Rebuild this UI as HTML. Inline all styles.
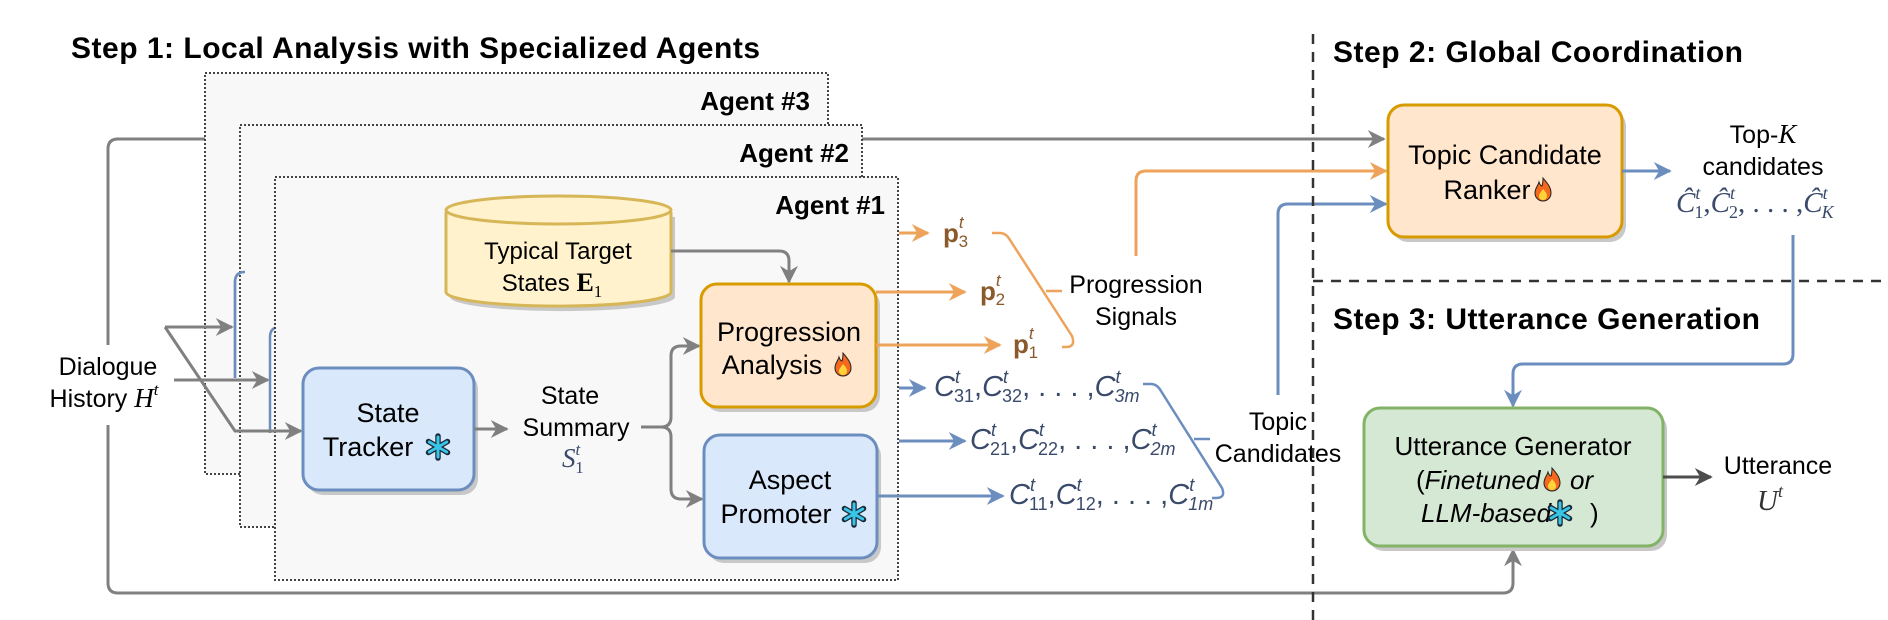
<!DOCTYPE html>
<html><head><meta charset="utf-8"><style>
html,body{margin:0;padding:0;background:#fff;}
svg{display:block;}
text{font-family:"Liberation Sans",sans-serif;}
.m{font-family:"Liberation Serif",serif;font-style:italic;}
</style></head><body>
<svg width="1888" height="620" viewBox="0 0 1888 620" xmlns="http://www.w3.org/2000/svg">
<defs>
<marker id="ag" viewBox="0 0 10 10" refX="9" refY="5" markerWidth="6" markerHeight="6" orient="auto" markerUnits="strokeWidth"><path d="M0,0 L10,5 L0,10 L3,5z" fill="#808080"/></marker>
<marker id="ao" viewBox="0 0 10 10" refX="9" refY="5" markerWidth="6" markerHeight="6" orient="auto" markerUnits="strokeWidth"><path d="M0,0 L10,5 L0,10 L3,5z" fill="#eea35a"/></marker>
<marker id="ab" viewBox="0 0 10 10" refX="9" refY="5" markerWidth="6" markerHeight="6" orient="auto" markerUnits="strokeWidth"><path d="M0,0 L10,5 L0,10 L3,5z" fill="#6c8ebf"/></marker>
<marker id="ad" viewBox="0 0 10 10" refX="9" refY="5" markerWidth="6" markerHeight="6" orient="auto" markerUnits="strokeWidth"><path d="M0,0 L10,5 L0,10 L3,5z" fill="#4d4d4d"/></marker>
<g id="fire"><path d="M8,0 C12,5 16,9 16,15 C16,20 12,23 8,23 C4,23 0,20 0,15 C0,10 3,8 4,4 C5,7 6,8 7,8 C8,5 8,3 8,0z" fill="#f4691d" stroke="#222" stroke-width="1"/><path d="M8,11 C11,14 12,16 12,18 C12,21 10,22 8,22 C6,22 4,21 4,18 C4,16 6,14 8,11z" fill="#ffd23a"/></g>
<g id="snow">
<g stroke="#1a2a3a" stroke-width="5.5" stroke-linecap="round"><line x1="0" y1="-11" x2="0" y2="11"/><line x1="-9.5" y1="-5.5" x2="9.5" y2="5.5"/><line x1="-9.5" y1="5.5" x2="9.5" y2="-5.5"/></g>
<g stroke="#39c6e6" stroke-width="3" stroke-linecap="round"><line x1="0" y1="-10" x2="0" y2="10"/><line x1="-8.7" y1="-5" x2="8.7" y2="5"/><line x1="-8.7" y1="5" x2="8.7" y2="-5"/></g>
</g>
</defs>

<path d="M108,345 V149 Q108,139 118,139 H1384" fill="none" stroke="#808080" stroke-width="3" marker-end="url(#ag)"/>
<path d="M108,425 V583 Q108,593 118,593 H1503 Q1513,593 1513,583 V550" fill="none" stroke="#808080" stroke-width="3" marker-end="url(#ag)"/>

<rect x="205" y="73" width="623" height="401" fill="#f8f8f8" stroke="#444" stroke-width="2" stroke-dasharray="2,2"/>
<text x="810" y="110" text-anchor="end" font-size="26" font-weight="bold">Agent #3</text>
<path d="M235,378 V282 Q235,272 245,272" fill="none" stroke="#6c8ebf" stroke-width="2.5"/>
<rect x="240" y="125" width="622" height="402" fill="#f8f8f8" stroke="#444" stroke-width="2" stroke-dasharray="2,2"/>
<text x="849" y="162" text-anchor="end" font-size="26" font-weight="bold">Agent #2</text>
<path d="M235,378 V282 Q235,272 245,272" fill="none" stroke="#6c8ebf" stroke-width="2.5"/>
<path d="M270,433 V337 Q270,327 280,327" fill="none" stroke="#6c8ebf" stroke-width="2.5"/>
<rect x="275" y="177" width="623" height="403" fill="#f8f8f8" stroke="#444" stroke-width="2" stroke-dasharray="2,2"/>
<text x="885" y="214" text-anchor="end" font-size="26" font-weight="bold">Agent #1</text>

<path d="M165,327 H232" fill="none" stroke="#808080" stroke-width="3" marker-end="url(#ag)"/>
<path d="M174,380 H268" fill="none" stroke="#808080" stroke-width="3" marker-end="url(#ag)"/>
<path d="M165,327 L235,431 H301" fill="none" stroke="#808080" stroke-width="3" marker-end="url(#ag)"/>

<text x="108" y="375" text-anchor="middle" font-size="25">Dialogue</text>
<text x="104" y="407" text-anchor="middle" font-size="25">History <tspan class="m" font-size="27">H</tspan><tspan class="m" font-size="17" dy="-12">t</tspan></text>

<path d="M446,212 V292 A112,14 0 0 0 671,292 V212" fill="#c8c8c8" transform="translate(4,5)"/>
<path d="M446,212 V292 A112,14 0 0 0 671,292 V212" fill="#fff2cc" stroke="#d6b656" stroke-width="3"/>
<ellipse cx="558.5" cy="210" rx="112.5" ry="14" fill="#fff2cc" stroke="#d6b656" stroke-width="3"/>
<text x="558" y="259" text-anchor="middle" font-size="24">Typical Target</text>
<text x="552" y="291" text-anchor="middle" font-size="24">States <tspan font-family="Liberation Serif" font-weight="bold" font-size="26">E</tspan><tspan font-family="Liberation Serif" font-size="17" dy="6">1</tspan></text>
<path d="M671,251 H779 Q789,251 789,261 V282" fill="none" stroke="#808080" stroke-width="3" marker-end="url(#ag)"/>

<rect x="307" y="373" width="171" height="122" rx="16" fill="#c8c8c8"/>
<rect x="303" y="368" width="171" height="122" rx="16" fill="#dae8fc" stroke="#6c8ebf" stroke-width="3"/>
<text x="388" y="422" text-anchor="middle" font-size="27">State</text>
<text x="368" y="456" text-anchor="middle" font-size="27">Tracker</text>
<use href="#snow" x="438" y="447"/>
<path d="M474,429 H507" fill="none" stroke="#808080" stroke-width="3" marker-end="url(#ag)"/>

<text x="570" y="404" text-anchor="middle" font-size="25">State</text>
<text x="576" y="436" text-anchor="middle" font-size="25">Summary</text>
<text x="562" y="467" class="m" font-size="27" fill="#3a4a6b">S<tspan font-size="17" dy="-12">t</tspan><tspan font-style="normal" font-size="17" dy="18" dx="-5">1</tspan></text>
<path d="M641,427 H661 Q671,427 671,417 V356 Q671,346 681,346 H699" fill="none" stroke="#808080" stroke-width="3" marker-end="url(#ag)"/>
<path d="M661,427 Q671,427 671,437 V489 Q671,499 681,499 H702" fill="none" stroke="#808080" stroke-width="3" marker-end="url(#ag)"/>

<rect x="705" y="289" width="175" height="123" rx="16" fill="#c8c8c8"/>
<rect x="701" y="284" width="175" height="123" rx="16" fill="#ffe6cc" stroke="#d79b00" stroke-width="3"/>
<text x="789" y="341" text-anchor="middle" font-size="27">Progression</text>
<text x="772" y="374" text-anchor="middle" font-size="27">Analysis</text>
<use href="#fire" x="835" y="353"/>

<rect x="708" y="440" width="173" height="123" rx="16" fill="#c8c8c8"/>
<rect x="704" y="435" width="173" height="123" rx="16" fill="#dae8fc" stroke="#6c8ebf" stroke-width="3"/>
<text x="790" y="489" text-anchor="middle" font-size="27">Aspect</text>
<text x="776" y="523" text-anchor="middle" font-size="27">Promoter</text>
<use href="#snow" x="854" y="514"/>

<path d="M899,233 H928" stroke="#eea35a" stroke-width="3" marker-end="url(#ao)"/>
<path d="M876,292 H965" stroke="#eea35a" stroke-width="3" marker-end="url(#ao)"/>
<path d="M876,345 H1000" stroke="#eea35a" stroke-width="3" marker-end="url(#ao)"/>
<g font-family="Liberation Serif" fill="#8b5a2b" font-size="26" font-weight="bold">
<text x="943" y="242">p<tspan font-size="17" font-weight="normal" font-style="italic" dy="-14">t</tspan><tspan font-size="17" font-weight="normal" dy="19" dx="-5">3</tspan></text>
<text x="980" y="300">p<tspan font-size="17" font-weight="normal" font-style="italic" dy="-14">t</tspan><tspan font-size="17" font-weight="normal" dy="19" dx="-5">2</tspan></text>
<text x="1013" y="353">p<tspan font-size="17" font-weight="normal" font-style="italic" dy="-14">t</tspan><tspan font-size="17" font-weight="normal" dy="19" dx="-5">1</tspan></text>
</g>
<path d="M992,233 H1000 Q1006,233 1010,240 L1072,336 Q1076,347 1066,347 H1062" fill="none" stroke="#eea35a" stroke-width="2.5"/>
<path d="M1046,291 H1062" stroke="#eea35a" stroke-width="2.5"/>
<text x="1136" y="293" text-anchor="middle" font-size="25">Progression</text>
<text x="1136" y="325" text-anchor="middle" font-size="25">Signals</text>
<path d="M1136,256 V181 Q1136,171 1146,171 H1386" fill="none" stroke="#eea35a" stroke-width="3" marker-end="url(#ao)"/>

<path d="M899,388 H925" stroke="#6c8ebf" stroke-width="3" marker-end="url(#ab)"/>
<path d="M899,441 H965" stroke="#6c8ebf" stroke-width="3" marker-end="url(#ab)"/>
<path d="M877,496 H1003" stroke="#6c8ebf" stroke-width="3" marker-end="url(#ab)"/>
<g class="m" fill="#3a4a6b" font-size="29">
<text x="934" y="396">C<tspan font-size="18" dy="-13">t</tspan><tspan font-size="18" font-style="normal" dy="19" dx="-6">31</tspan><tspan dy="-6" font-style="normal">,</tspan>C<tspan font-size="18" dy="-13">t</tspan><tspan font-size="18" font-style="normal" dy="19" dx="-6">32</tspan><tspan dy="-6" font-style="normal">, . . . ,</tspan>C<tspan font-size="18" dy="-13">t</tspan><tspan font-size="18" dy="19" dx="-6">3m</tspan></text>
<text x="970" y="449">C<tspan font-size="18" dy="-13">t</tspan><tspan font-size="18" font-style="normal" dy="19" dx="-6">21</tspan><tspan dy="-6" font-style="normal">,</tspan>C<tspan font-size="18" dy="-13">t</tspan><tspan font-size="18" font-style="normal" dy="19" dx="-6">22</tspan><tspan dy="-6" font-style="normal">, . . . ,</tspan>C<tspan font-size="18" dy="-13">t</tspan><tspan font-size="18" dy="19" dx="-6">2m</tspan></text>
<text x="1009" y="504">C<tspan font-size="18" dy="-13">t</tspan><tspan font-size="18" font-style="normal" dy="19" dx="-6">11</tspan><tspan dy="-6" font-style="normal">,</tspan>C<tspan font-size="18" dy="-13">t</tspan><tspan font-size="18" font-style="normal" dy="19" dx="-6">12</tspan><tspan dy="-6" font-style="normal">, . . . ,</tspan>C<tspan font-size="18" dy="-13">t</tspan><tspan font-size="18" dy="19" dx="-6">1m</tspan></text>
</g>
<path d="M1143,384 H1151 Q1157,384 1161,391 L1222,488 Q1226,498 1216,498 H1212" fill="none" stroke="#6c8ebf" stroke-width="2.5"/>
<path d="M1194,439 H1210" stroke="#6c8ebf" stroke-width="2.5"/>
<text x="1278" y="430" text-anchor="middle" font-size="25">Topic</text>
<text x="1278" y="462" text-anchor="middle" font-size="25">Candidates</text>
<path d="M1278,395 V214 Q1278,204 1288,204 H1386" fill="none" stroke="#6c8ebf" stroke-width="3" marker-end="url(#ab)"/>

<path d="M1313,34 V620" stroke="#333" stroke-width="2.5" stroke-dasharray="10,8"/>
<path d="M1313,281 H1888" stroke="#333" stroke-width="2.5" stroke-dasharray="10,8"/>

<text x="71" y="58" font-size="30" font-weight="bold" textLength="689">Step 1: Local Analysis with Specialized Agents</text>
<text x="1333" y="62" font-size="30" font-weight="bold" textLength="410">Step 2: Global Coordination</text>
<text x="1333" y="329" font-size="30" font-weight="bold" textLength="427">Step 3: Utterance Generation</text>

<rect x="1392" y="110" width="234" height="132" rx="16" fill="#c8c8c8"/>
<rect x="1388" y="105" width="234" height="132" rx="16" fill="#ffe6cc" stroke="#d79b00" stroke-width="3"/>
<text x="1505" y="164" text-anchor="middle" font-size="27">Topic Candidate</text>
<text x="1487" y="199" text-anchor="middle" font-size="27">Ranker</text>
<use href="#fire" x="1535" y="178"/>
<path d="M1622,171 H1670" stroke="#6c8ebf" stroke-width="3" marker-end="url(#ab)"/>
<text x="1763" y="143" text-anchor="middle" font-size="25">Top-<tspan class="m" font-size="27">K</tspan></text>
<text x="1763" y="175" text-anchor="middle" font-size="25">candidates</text>
<text x="1676" y="212" class="m" fill="#3a4a6b" font-size="29">Ĉ<tspan font-size="18" dy="-13">t</tspan><tspan font-size="18" font-style="normal" dy="19" dx="-6">1</tspan><tspan dy="-6" font-style="normal">,</tspan>Ĉ<tspan font-size="18" dy="-13">t</tspan><tspan font-size="18" font-style="normal" dy="19" dx="-6">2</tspan><tspan dy="-6" font-style="normal">, . . . ,</tspan>Ĉ<tspan font-size="18" dy="-13">t</tspan><tspan font-size="18" dy="19" dx="-6">K</tspan></text>
<path d="M1793,235 V354 Q1793,364 1783,364 H1523 Q1513,364 1513,374 V406" fill="none" stroke="#6c8ebf" stroke-width="3" marker-end="url(#ab)"/>

<rect x="1368" y="413" width="299" height="138" rx="16" fill="#c8c8c8"/>
<rect x="1364" y="408" width="299" height="138" rx="16" fill="#d5e8d4" stroke="#82b366" stroke-width="3"/>
<text x="1513" y="455" text-anchor="middle" font-size="26">Utterance Generator</text>
<text x="1416" y="489" font-size="26">(<tspan font-style="italic">Finetuned</tspan></text>
<use href="#fire" x="1544" y="468"/>
<text x="1570" y="489" font-size="26" font-style="italic">or</text>
<text x="1421" y="522" font-size="26" font-style="italic">LLM-based</text>
<use href="#snow" x="1560" y="513"/>
<text x="1590" y="522" font-size="26">)</text>
<path d="M1663,477 H1711" stroke="#4d4d4d" stroke-width="3" marker-end="url(#ad)"/>
<text x="1778" y="474" text-anchor="middle" font-size="25">Utterance</text>
<text x="1770" y="510" text-anchor="middle" class="m" font-size="29" fill="#333">U<tspan font-size="18" dy="-13">t</tspan></text>
</svg>
</body></html>
